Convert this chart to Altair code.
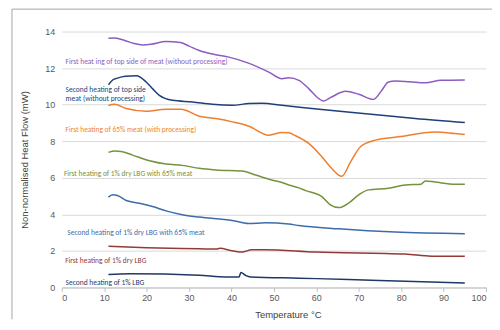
import altair as alt
import pandas as pd

# ---- series (temperature °C, heat flow mW) ----
s1_name = "First heating of top side of meat (without processing)"
s1_x = [11, 12.5, 15, 17, 19, 21, 24.5, 28, 30, 32.4, 36.3, 39.4, 44, 48.8, 51.9, 53.5, 55.9, 58.2, 60.6, 61.7, 63.6, 66.9, 70, 73.5, 75.4, 77, 78.6, 82, 85.7, 89.4, 95]
s1_y = [13.63, 13.65, 13.5, 13.35, 13.27, 13.3, 13.45, 13.4, 13.2, 12.96, 12.73, 12.6, 12.27, 11.78, 11.42, 11.47, 11.33, 10.88, 10.33, 10.2, 10.42, 10.73, 10.57, 10.29, 10.78, 11.24, 11.29, 11.25, 11.2, 11.33, 11.35]

s2_name = "Second heating of top side meat (without processing)"
s2_x = [11, 12, 13.1, 15, 17.6, 19.9, 21.5, 23, 26.1, 30.8, 35.5, 40.2, 44.1, 47.2, 51.9, 61.3, 75.4, 83.3, 95]
s2_y = [11.09, 11.35, 11.45, 11.55, 11.58, 11.24, 10.85, 10.51, 10.24, 10.15, 10.02, 9.97, 10.06, 10.08, 9.97, 9.73, 9.42, 9.24, 9.02]

s3_name = "First heating of 65% meat (with processing)"
s3_x = [11, 12.4, 15.2, 19.9, 24.6, 28.1, 32.4, 36.3, 40.2, 44.1, 48.8, 51.9, 53.5, 55.1, 58.2, 61.3, 63.6, 66, 68.1, 70.4, 73.9, 79.3, 88, 92.7, 95]
s3_y = [9.95, 10.02, 9.79, 9.64, 9.75, 9.75, 9.37, 9.24, 9.06, 8.82, 8.33, 8.48, 8.46, 8.3, 7.88, 7.15, 6.52, 6.08, 6.88, 7.7, 8.06, 8.24, 8.51, 8.42, 8.37]

s4_name = "First heating of 1% dry LBG with 65% meat"
s4_x = [11, 12.5, 14, 16.7, 20.7, 24.6, 28.4, 32.4, 36.3, 42.5, 45.7, 49.5, 51.9, 53.5, 55.9, 57.5, 61.3, 63.3, 65.3, 67.6, 70, 72.3, 77, 81, 84.7, 85.7, 88, 92.7, 95]
s4_y = [7.39, 7.46, 7.44, 7.24, 6.93, 6.75, 6.68, 6.52, 6.43, 6.37, 6.15, 5.88, 5.74, 5.61, 5.45, 5.3, 4.97, 4.52, 4.37, 4.61, 5.07, 5.34, 5.43, 5.61, 5.65, 5.83, 5.77, 5.65, 5.65]

s5_name = "Second heating of 1% dry LBG with 65% meat"
s5_x = [11, 12, 13.1, 15.2, 18.3, 21.4, 24.6, 28.4, 32.4, 40.2, 44, 48, 53.5, 55.9, 65.3, 78.6, 95]
s5_y = [4.94, 5.07, 5.03, 4.76, 4.61, 4.43, 4.19, 3.98, 3.85, 3.67, 3.5, 3.54, 3.47, 3.39, 3.21, 3.03, 2.94]

s6_name = "First heating of 1% dry LBG"
s6_x = [11, 20, 32.4, 36.5, 37.2, 40.2, 42.5, 44.8, 47.7, 59.8, 81, 87.1, 95]
s6_y = [2.25, 2.18, 2.12, 2.1, 2.14, 2.01, 1.94, 2.07, 2.07, 1.94, 1.83, 1.71, 1.71]

s7_name = "Second heating of 1% LBG"
s7_x = [11, 16, 32.4, 38.7, 41.8, 42.2, 43.4, 44.5, 55.9, 67.6, 81, 95]
s7_y = [0.71, 0.75, 0.67, 0.58, 0.58, 0.82, 0.65, 0.58, 0.51, 0.44, 0.34, 0.25]

series_names = [s1_name, s2_name, s3_name, s4_name, s5_name, s6_name, s7_name]
series_colors = ["#8b5cc2", "#203f78", "#ef7f2e", "#76923c", "#3d6cab", "#923a38", "#1f3864"]

# curve annotations (text, temperature, heat flow)
label_series = [s1_name, s2_name, s2_name, s3_name, s4_name, s5_name, s6_name, s7_name]
label_text = [
    "First heat ing of top side of meat (without processing)",
    "Second heating of top side",
    "meat (without processing)",
    "First heating of 65% meat (with processing)",
    "First heating of 1% dry LBG with 65% meat",
    "Second heating of 1% dry LBG with 65% meat",
    "First heating of 1% dry LBG",
    "Second heating of 1% LBG",
]
label_x = [0.9, 0.9, 0.9, 0.9, 0.5, 1.3, 0.8, 0.9]
label_y = [12.33, 10.82, 10.31, 8.62, 6.19, 2.98, 1.47, 0.26]

x_ticks = list(range(0, 101, 10))
y_ticks = list(range(0, 15, 2))

rows = []
for name, xs, ys in [(s1_name, s1_x, s1_y), (s2_name, s2_x, s2_y), (s3_name, s3_x, s3_y),
                     (s4_name, s4_x, s4_y), (s5_name, s5_x, s5_y), (s6_name, s6_x, s6_y),
                     (s7_name, s7_x, s7_y)]:
    for xv, yv in zip(xs, ys):
        rows.append({"series": name, "temp": xv, "flow": yv})
df = pd.DataFrame(rows)
labels = pd.DataFrame({"series": label_series, "text": label_text, "temp": label_x, "flow": label_y})

W, H = 426, 257

color = alt.Color("series:N", scale=alt.Scale(domain=series_names, range=series_colors), legend=None)

x_enc = alt.X("temp:Q", scale=alt.Scale(domain=[0, 100], nice=False),
              axis=alt.Axis(values=x_ticks, title="Temperature °C", grid=False, domain=True,
                            domainColor="#bfbfbf", ticks=True, tickColor="#bfbfbf", tickSize=4,
                            labelPadding=2, labelOverlap=False, titleX=227, titleY=30,
                            titleBaseline="alphabetic", titleAnchor="middle", titleAlign="center"))
y_enc = alt.Y("flow:Q", scale=alt.Scale(domain=[0, 14], nice=False),
              axis=alt.Axis(values=y_ticks, tickCount=8, title="Non-normalised Heat Flow (mW)",
                            grid=True, gridColor="#d9d9d9", domain=False, ticks=False,
                            labelPadding=7, labelOverlap=False, titleX=-37, titleY=H / 2,
                            titleAngle=-90, titleAlign="center", titleBaseline="middle"))

lines = alt.Chart(df).mark_line(strokeWidth=1.5, interpolate="monotone").encode(
    x=x_enc, y=y_enc, color=color, detail="series:N")

texts = alt.Chart(labels).mark_text(align="left", baseline="middle", font="Carlito, Lato",
                                    fontSize=7.5).encode(
    x=x_enc, y=y_enc, text="text:N", color=color)

frame_top = alt.Chart(pd.DataFrame({"k": [0]})).mark_rule(color="#a6a6a6", strokeWidth=1).encode(
    x=alt.value(-50), x2=alt.value(W + 10), y=alt.value(-22.5))
frame_left = alt.Chart(pd.DataFrame({"k": [0]})).mark_rule(color="#a6a6a6", strokeWidth=1).encode(
    x=alt.value(-50), y=alt.value(-22.5), y2=alt.value(H + 32))

chart = alt.layer(lines, texts, frame_top, frame_left).properties(
    width=W, height=H,
    autosize=alt.AutoSizeParams(type="none"),
    padding={"left": 54, "top": 23, "right": 6, "bottom": 32},
).configure_view(stroke=None).configure_axis(
    labelFont="Liberation Sans", labelFontSize=9, labelColor="#595959",
    titleFont="Liberation Sans", titleFontSize=9.5, titleColor="#404040", titleFontWeight="normal",
)

chart.save("out.html", embed_options={"renderer": "svg", "actions": False})
